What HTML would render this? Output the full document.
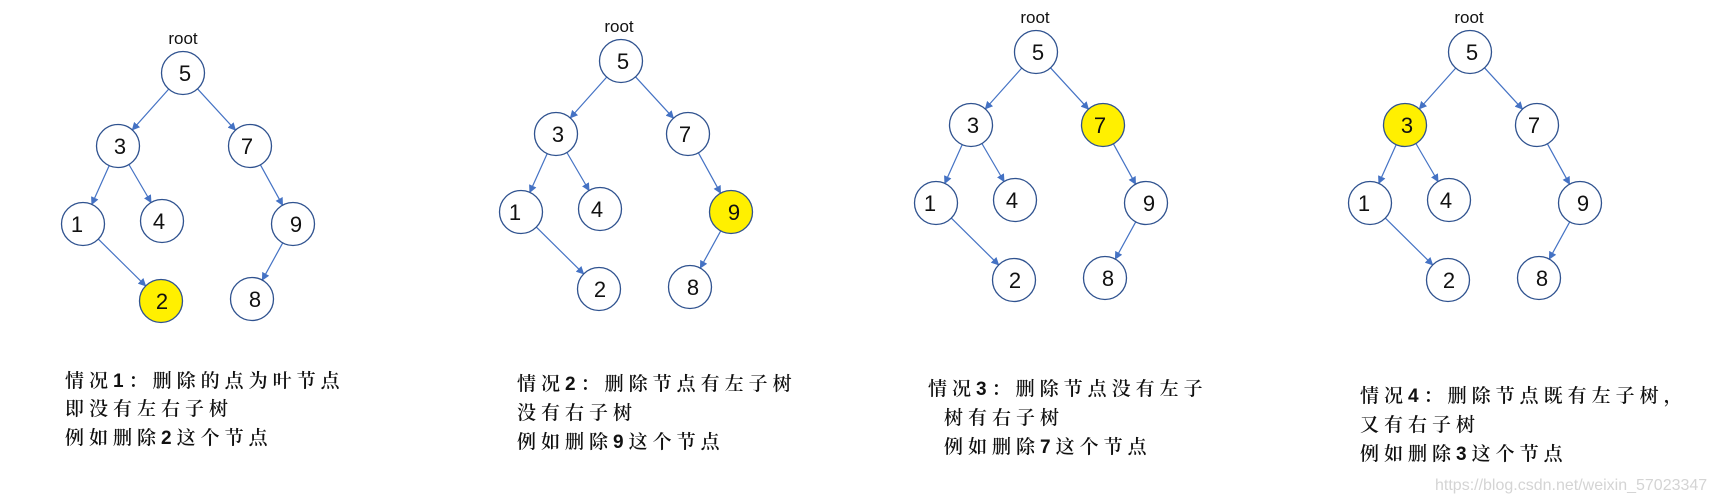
<!DOCTYPE html>
<html><head><meta charset="utf-8"><style>
html,body{margin:0;padding:0;background:#fff;}
svg{display:block}
.n circle{fill:#fff;stroke:#2F528F;stroke-width:1.3}
.n circle.y{fill:#FFF000}
.n text{font-family:"Liberation Sans",sans-serif;font-size:22px;fill:#111;text-anchor:middle}
.e line{stroke:#4472C4;stroke-width:1.2;marker-end:url(#a)}
.r{font-family:"Liberation Sans",sans-serif;font-size:17px;fill:#111;text-anchor:middle}
.c{font-family:"Liberation Sans","Noto Serif CJK SC",serif;font-size:19px;font-weight:600;fill:#111;letter-spacing:5px}
</style></head><body>
<svg width="1715" height="502" viewBox="0 0 1715 502">
<defs>
<marker id="a" viewBox="0 0 10 10" refX="9" refY="5" markerWidth="8" markerHeight="8" markerUnits="userSpaceOnUse" orient="auto"><path d="M0,0L10,5L0,10z" fill="#4472C4"/></marker>
<g id="edges" class="e">
<line x1="-14.3" y1="16.1" x2="-50.7" y2="56.9"/>
<line x1="14.5" y1="15.8" x2="52.5" y2="57.2"/>
<line x1="-73.8" y1="92.6" x2="-91.2" y2="131.4"/>
<line x1="-54.1" y1="91.5" x2="-31.9" y2="129.5"/>
<line x1="77.4" y1="91.8" x2="99.6" y2="132.2"/>
<line x1="-84.7" y1="166.1" x2="-37.3" y2="212.9"/>
<line x1="99.7" y1="169.9" x2="79.3" y2="207.1"/>
</g>
</defs>

<g transform="translate(183,73)">
<use href="#edges"/>
<text class="r" x="0" y="-29">root</text>
<g class="n">
<circle r="21.5"/><text x="2" y="8">5</text>
<circle cx="-65" cy="73" r="21.5"/><text x="-63" y="81">3</text>
<circle cx="67" cy="73" r="21.5"/><text x="64" y="81">7</text>
<circle cx="-100" cy="151" r="21.5"/><text x="-106" y="159">1</text>
<circle cx="-21" cy="148" r="21.5"/><text x="-24" y="156">4</text>
<circle cx="110" cy="151" r="21.5"/><text x="113" y="159">9</text>
<circle class="y" cx="-22" cy="228" r="21.5"/><text x="-21" y="236">2</text>
<circle cx="69" cy="226" r="21.5"/><text x="72" y="234">8</text>
</g></g>

<g transform="translate(621,61)">
<use href="#edges"/>
<text class="r" x="-2" y="-29">root</text>
<g class="n">
<circle r="21.5"/><text x="2" y="8">5</text>
<circle cx="-65" cy="73" r="21.5"/><text x="-63" y="81">3</text>
<circle cx="67" cy="73" r="21.5"/><text x="64" y="81">7</text>
<circle cx="-100" cy="151" r="21.5"/><text x="-106" y="159">1</text>
<circle cx="-21" cy="148" r="21.5"/><text x="-24" y="156">4</text>
<circle class="y" cx="110" cy="151" r="21.5"/><text x="113" y="159">9</text>
<circle cx="-22" cy="228" r="21.5"/><text x="-21" y="236">2</text>
<circle cx="69" cy="226" r="21.5"/><text x="72" y="234">8</text>
</g></g>

<g transform="translate(1036,52)">
<use href="#edges"/>
<text class="r" x="-1" y="-29">root</text>
<g class="n">
<circle r="21.5"/><text x="2" y="8">5</text>
<circle cx="-65" cy="73" r="21.5"/><text x="-63" y="81">3</text>
<circle class="y" cx="67" cy="73" r="21.5"/><text x="64" y="81">7</text>
<circle cx="-100" cy="151" r="21.5"/><text x="-106" y="159">1</text>
<circle cx="-21" cy="148" r="21.5"/><text x="-24" y="156">4</text>
<circle cx="110" cy="151" r="21.5"/><text x="113" y="159">9</text>
<circle cx="-22" cy="228" r="21.5"/><text x="-21" y="236">2</text>
<circle cx="69" cy="226" r="21.5"/><text x="72" y="234">8</text>
</g></g>

<g transform="translate(1470,52)">
<use href="#edges"/>
<text class="r" x="-1" y="-29">root</text>
<g class="n">
<circle r="21.5"/><text x="2" y="8">5</text>
<circle class="y" cx="-65" cy="73" r="21.5"/><text x="-63" y="81">3</text>
<circle cx="67" cy="73" r="21.5"/><text x="64" y="81">7</text>
<circle cx="-100" cy="151" r="21.5"/><text x="-106" y="159">1</text>
<circle cx="-21" cy="148" r="21.5"/><text x="-24" y="156">4</text>
<circle cx="110" cy="151" r="21.5"/><text x="113" y="159">9</text>
<circle cx="-22" cy="228" r="21.5"/><text x="-21" y="236">2</text>
<circle cx="69" cy="226" r="21.5"/><text x="72" y="234">8</text>
</g></g>

<text class="c" x="65" y="387">情况1：删除的点为叶节点</text>
<text class="c" x="65" y="415">即没有左右子树</text>
<text class="c" x="65" y="444">例如删除2这个节点</text>

<text class="c" x="517" y="390">情况2：删除节点有左子树</text>
<text class="c" x="517" y="419">没有右子树</text>
<text class="c" x="517" y="448">例如删除9这个节点</text>

<text class="c" x="928" y="395">情况3：删除节点没有左子</text>
<text class="c" x="944" y="424">树有右子树</text>
<text class="c" x="944" y="453">例如删除7这个节点</text>

<text class="c" x="1360" y="402">情况4：删除节点既有左子树，</text>
<text class="c" x="1360" y="431">又有右子树</text>
<text class="c" x="1360" y="460">例如删除3这个节点</text>

<text x="1435" y="490" style="font-family:'Liberation Sans',sans-serif;font-size:16px;fill:#d4d4d4">https://blog.csdn.net/weixin_57023347</text>
</svg>
</body></html>
